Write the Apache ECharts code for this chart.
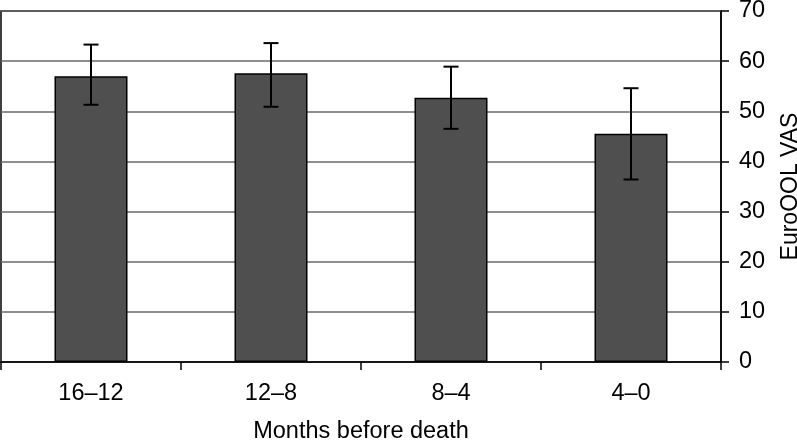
<!DOCTYPE html>
<html>
<head>
<meta charset="utf-8">
<script src="https://cdn.jsdelivr.net/npm/echarts@6/dist/echarts.min.js"></script>
<style>
html,body{margin:0;padding:0;background:#fff;}
#chart{width:797px;height:440px;}
</style>
</head>
<body>
<div id="chart"></div>
<script>
const categories = ['16–12', '12–8', '8–4', '4–0'];
const values = [57.0, 57.6, 52.7, 45.5];
const errLow = [51.3, 50.9, 46.5, 36.4];
const errHigh = [63.3, 63.6, 58.9, 54.6];
const yTicks = [0, 10, 20, 30, 40, 50, 60, 70];

const FONT = 'Liberation Sans, Arial, Helvetica, sans-serif';
const chart = echarts.init(document.getElementById('chart'), null, {renderer: 'canvas'});

const errData = categories.map((c, i) => [i, errLow[i], errHigh[i]]);

chart.setOption({
  animation: false,
  backgroundColor: '#fff',
  grid: {left: 1, top: 11, right: 76, bottom: 78, show: true, borderColor: '#000', borderWidth: 1.5,
         containLabel: false, outerBoundsMode: 'none'},
  xAxis: {
    type: 'category',
    data: categories,
    name: 'Months before death',
    nameLocation: 'middle',
    nameGap: 58,
    nameTextStyle: {fontFamily: FONT, fontSize: 23.5, color: '#000'},
    axisLine: {lineStyle: {color: '#000', width: 1.5}},
    axisTick: {show: true, length: 8, lineStyle: {color: '#000', width: 1.5}},
    axisLabel: {fontFamily: FONT, fontSize: 23.5, color: '#000', margin: 20},
    splitLine: {show: false}
  },
  yAxis: {
    type: 'value',
    position: 'right',
    min: yTicks[0],
    max: yTicks[yTicks.length - 1],
    interval: 10,
    name: 'EuroQOL VAS',
    nameLocation: 'middle',
    nameRotate: 90,
    nameGap: 58,
    nameTextStyle: {fontFamily: FONT, fontSize: 23, color: '#000'},
    axisLine: {show: true, lineStyle: {color: '#000', width: 1.5}},
    axisTick: {show: true, length: 8, inside: false, lineStyle: {color: '#000', width: 1.5}},
    axisLabel: {fontFamily: FONT, fontSize: 23.5, color: '#000', margin: 18},
    splitLine: {show: true, lineStyle: {color: '#6a6a6a', width: 1.5}}
  },
  series: [
    {
      type: 'bar',
      data: values,
      barWidth: 73,
      itemStyle: {color: '#4f4f4f', borderColor: '#000', borderWidth: 1.5},
      z: 2
    },
    {
      type: 'custom',
      data: errData,
      z: 5,
      renderItem: function (params, api) {
        const x = api.value(0);
        const lo = api.coord([x, api.value(1)]);
        const hi = api.coord([x, api.value(2)]);
        const cap = 7.5;
        const style = {stroke: '#000', lineWidth: 2};
        return {
          type: 'group',
          children: [
            {type: 'line', shape: {x1: lo[0], y1: lo[1], x2: hi[0], y2: hi[1]}, style: style},
            {type: 'line', shape: {x1: hi[0] - cap, y1: hi[1], x2: hi[0] + cap, y2: hi[1]}, style: style},
            {type: 'line', shape: {x1: lo[0] - cap, y1: lo[1], x2: lo[0] + cap, y2: lo[1]}, style: style}
          ]
        };
      }
    }
  ]
});
</script>
</body>
</html>
